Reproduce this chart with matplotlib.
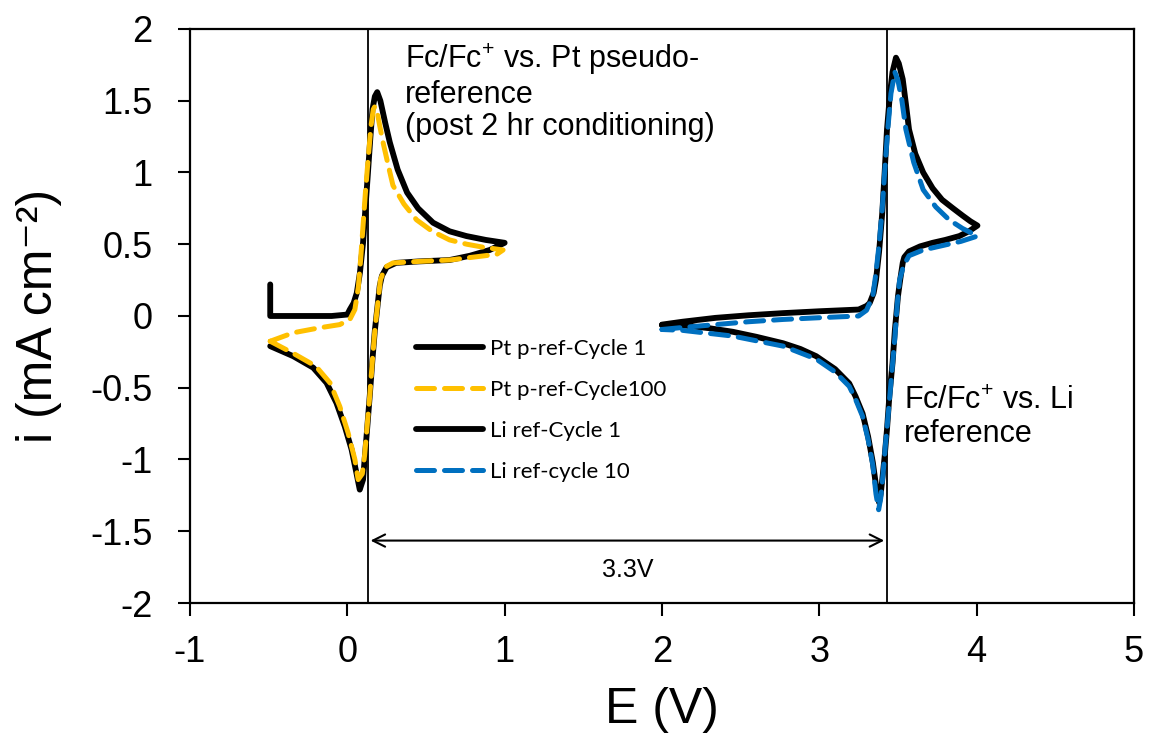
import matplotlib
matplotlib.use("Agg")
from matplotlib import pyplot as plt

plt.rcParams["font.family"] = ["Liberation Sans", "DejaVu Sans"]
plt.rcParams["mathtext.fontset"] = "custom"
plt.rcParams["mathtext.rm"] = "Liberation Sans"
plt.rcParams["mathtext.it"] = "Liberation Sans"
plt.rcParams["mathtext.default"] = "regular"

# Pt pseudo-reference, cycle 1
pt1_E = [-0.49, -0.49, -0.30, -0.10, 0.00, 0.016, 0.04, 0.06, 0.08, 0.10, 0.115, 0.13, 0.145, 0.16, 0.175, 0.19,
         0.21, 0.24, 0.27, 0.32, 0.38, 0.45, 0.545, 0.65, 0.757, 0.88, 1.00,
         0.905, 0.78, 0.65, 0.45, 0.31, 0.25, 0.22, 0.206, 0.195, 0.185, 0.175, 0.16, 0.143, 0.125, 0.11, 0.10,
         0.079, 0.058, 0.027, -0.016, -0.069, -0.132, -0.217, -0.344, -0.49]
pt1_i = [0.22, 0.0, 0.0, 0.0, 0.01, 0.045, 0.09, 0.16, 0.30, 0.51, 0.75, 0.98, 1.22, 1.44, 1.53, 1.56,
         1.50, 1.35, 1.21, 1.02, 0.86, 0.75, 0.65, 0.59, 0.557, 0.53, 0.51,
         0.46, 0.42, 0.39, 0.38, 0.37, 0.34, 0.28, 0.21, 0.10, 0.0, -0.10, -0.30, -0.55, -0.80, -1.00, -1.14,
         -1.21, -1.095, -0.93, -0.77, -0.606, -0.466, -0.36, -0.28, -0.21]

# Pt pseudo-reference, cycle 100
pt100_E = [-0.49, -0.344, -0.175, -0.048, 0.016, 0.048, 0.07, 0.085, 0.10, 0.115, 0.132, 0.15,
           0.165, 0.175, 0.19, 0.205, 0.227, 0.26, 0.29, 0.36, 0.44, 0.54, 0.65, 0.76, 0.86, 0.99,
           0.95, 0.80, 0.65, 0.45, 0.29, 0.24, 0.21, 0.195, 0.185, 0.175, 0.16, 0.143, 0.125, 0.11, 0.095,
           0.069, 0.048, 0.005, -0.048, -0.11, -0.20, -0.344, -0.49]
pt100_i = [-0.176, -0.117, -0.082, -0.06, -0.024, 0.045, 0.2, 0.40, 0.63, 0.86, 1.09, 1.32,
           1.44, 1.46, 1.42, 1.33, 1.21, 1.05, 0.91, 0.78, 0.67, 0.59, 0.53, 0.50, 0.48, 0.46,
           0.43, 0.41, 0.39, 0.38, 0.37, 0.34, 0.25, 0.10, 0.0, -0.10, -0.30, -0.55, -0.78, -0.97, -1.10,
           -1.14, -1.00, -0.815, -0.63, -0.466, -0.35, -0.26, -0.176]

# Li reference, cycle 1
li1_E = [2.00, 2.13, 2.34, 2.55, 2.77, 3.00, 3.25, 3.30, 3.32, 3.345, 3.36, 3.38, 3.40, 3.415, 3.43,
         3.45, 3.465, 3.487, 3.505, 3.53, 3.55, 3.57, 3.61, 3.66, 3.72, 3.78, 3.85, 3.91, 3.96, 4.005,
         3.95, 3.89, 3.80, 3.72, 3.64, 3.57, 3.54, 3.53, 3.515, 3.50, 3.48, 3.465, 3.445, 3.43, 3.415,
         3.40, 3.39, 3.38, 3.365, 3.34, 3.31, 3.275, 3.23, 3.19, 3.10, 2.98, 2.88, 2.77, 2.60, 2.45,
         2.30, 2.13, 2.00]
li1_i = [-0.06, -0.04, -0.013, 0.005, 0.02, 0.033, 0.045, 0.07, 0.09, 0.16, 0.25, 0.45, 0.72, 1.00, 1.30,
         1.56, 1.70, 1.80, 1.76, 1.65, 1.48, 1.30, 1.13, 1.00, 0.89, 0.81, 0.75, 0.70, 0.66, 0.63,
         0.59, 0.557, 0.53, 0.51, 0.485, 0.45, 0.41, 0.37, 0.26, 0.14, -0.10, -0.33, -0.56, -0.79, -0.98,
         -1.14, -1.24, -1.30, -1.22, -1.02, -0.84, -0.68, -0.56, -0.47, -0.37, -0.28, -0.23, -0.19, -0.145, -0.11,
         -0.085, -0.065, -0.065]

# Li reference, cycle 10
li10_E = [2.00, 2.13, 2.34, 2.55, 2.77, 3.00, 3.25, 3.30, 3.34, 3.36, 3.38, 3.40, 3.415, 3.435, 3.455,
          3.48, 3.50, 3.525, 3.55, 3.60, 3.66, 3.74, 3.825, 3.91, 4.005,
          3.90, 3.78, 3.66, 3.57, 3.535, 3.51, 3.495, 3.48, 3.46, 3.44, 3.42, 3.405, 3.39, 3.377,
          3.36, 3.34, 3.31, 3.275, 3.23, 3.19, 3.10, 2.98, 2.77, 2.45, 2.13, 2.00]
li10_i = [-0.094, -0.08, -0.06, -0.04, -0.024, -0.012, 0.0, 0.04, 0.14, 0.30, 0.50, 0.75, 1.00, 1.30, 1.55,
          1.70, 1.64, 1.50, 1.30, 1.07, 0.88, 0.76, 0.67, 0.61, 0.557,
          0.52, 0.49, 0.46, 0.42, 0.35, 0.25, 0.08, -0.15, -0.40, -0.66, -0.90, -1.10, -1.27, -1.35,
          -1.24, -1.04, -0.86, -0.70, -0.58, -0.49, -0.39, -0.30, -0.21, -0.14, -0.10, -0.094]

series_labels = ["Pt p-ref-Cycle 1", "Pt p-ref-Cycle100", "Li ref-Cycle 1", "Li ref-cycle 10"]
x_ticks = [-1, 0, 1, 2, 3, 4, 5]
x_tick_labels = ["-1", "0", "1", "2", "3", "4", "5"]
y_ticks = [-2, -1.5, -1, -0.5, 0, 0.5, 1, 1.5, 2]
y_tick_labels = ["-2", "-1.5", "-1", "-0.5", "0", "0.5", "1", "1.5", "2"]
fc_pt_E = 0.13
fc_li_E = 3.43

fig = plt.figure(figsize=(11.5, 7.45), dpi=100)
ax = fig.add_axes([0.1652, 0.1906, 0.8209, 0.7705])

yellow = "#FFC000"
blue = "#0070C0"

ax.plot(pt1_E, pt1_i, color="black", lw=4.2, solid_joinstyle="round", solid_capstyle="round",
        label=series_labels[0], zorder=3)
ax.plot(pt100_E, pt100_i, color=yellow, lw=3.6, dashes=(3.6, 2), dash_capstyle="round",
        label=series_labels[1], zorder=4)
ax.plot(li1_E, li1_i, color="black", lw=4.2, solid_joinstyle="round", solid_capstyle="round",
        label=series_labels[2], zorder=3)
ax.plot(li10_E, li10_i, color=blue, lw=3.6, dashes=(3.6, 2), dash_capstyle="round",
        label=series_labels[3], zorder=4)

# reference lines and 3.3 V separation
ax.axvline(fc_pt_E, color="black", lw=1.3, zorder=2)
ax.axvline(fc_li_E, color="black", lw=1.3, zorder=2)
ax.annotate("", xy=(fc_pt_E, -1.565), xytext=(fc_li_E, -1.565),
            arrowprops=dict(arrowstyle="<->", color="black", lw=1.5, mutation_scale=22))
ax.text(1.78, -1.77, "3.3V", fontsize=18, ha="center", va="center")

ax.text(0.365, 1.91, "Fc/Fc$^{+}$ vs. Pt pseudo-\nreference\n(post 2 hr conditioning)",
        fontsize=22, ha="left", va="top", linespacing=1.1)
ax.text(3.54, -0.49, "Fc/Fc$^{+}$ vs. Li\nreference", fontsize=22, ha="left", va="top",
        linespacing=1.1)

ax.set_xlim(-1, 5)
ax.set_ylim(-2, 2)
ax.set_xticks(x_ticks)
ax.set_xticklabels(x_tick_labels)
ax.set_yticks(y_ticks)
ax.set_yticklabels(y_tick_labels)
ax.tick_params(axis="both", direction="out", length=9, width=1.5, labelsize=26)
ax.tick_params(axis="x", pad=14)
ax.tick_params(axis="y", pad=18)
for s in ax.spines.values():
    s.set_linewidth(1.6)

ax.set_xlabel("E (V)", fontsize=36, labelpad=12)
ax.set_ylabel("i (mA cm\u207b\u00b2)", fontsize=36, labelpad=20)

leg = ax.legend(loc="upper left", bbox_to_anchor=(0.228, 0.48), frameon=False, borderpad=0,
                handlelength=3.0, handletextpad=0.3, labelspacing=0.95,
                prop={"family": "Lato", "size": 16})

fig.savefig("out.png", dpi=100)
